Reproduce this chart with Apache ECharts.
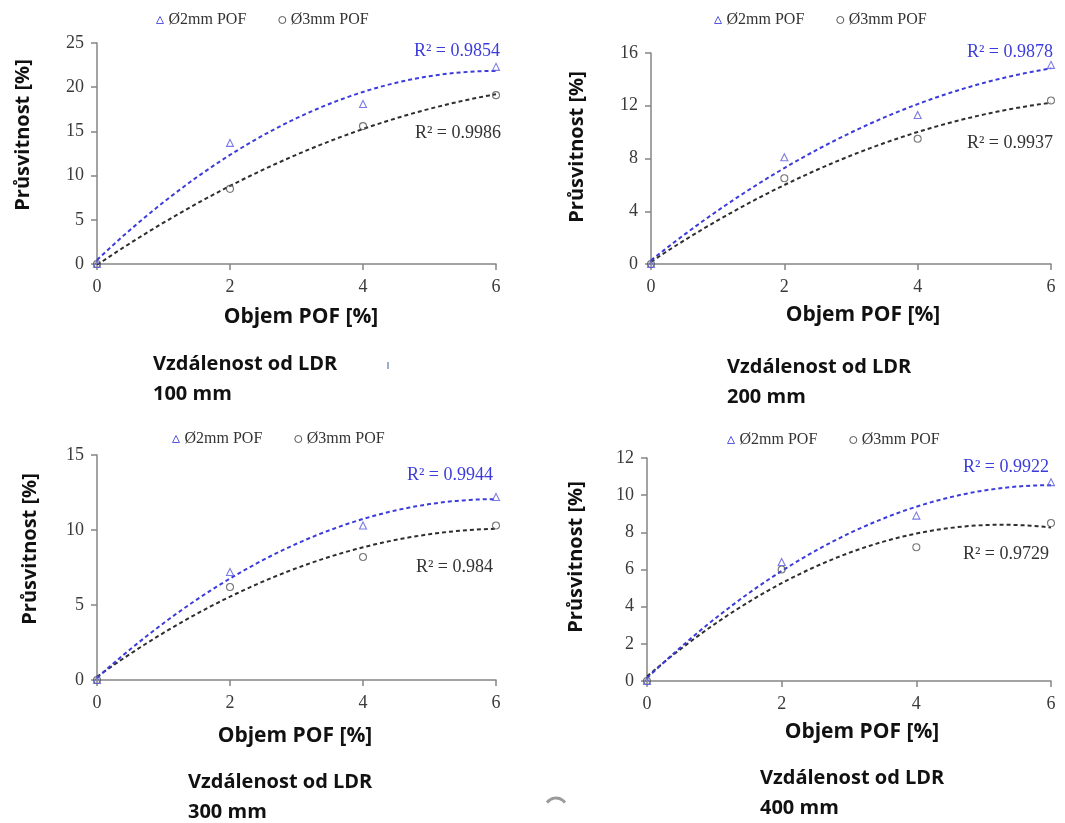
<!DOCTYPE html>
<html>
<head>
<meta charset="utf-8">
<style>
html,body{margin:0;padding:0;background:#fff;}
#chart{width:1065px;height:823px;}
</style>
<script src="https://cdn.jsdelivr.net/npm/echarts@6/dist/echarts.min.js"></script>
</head>
<body>
<div id="chart"></div>
<script>
// ---- data ----
const objem = [0, 2, 4, 6];
const pof2mm_100 = [0, 13.7, 18.1, 22.3];
const pof3mm_100 = [0, 8.5, 15.6, 19.1];
const pof2mm_200 = [0, 8.1, 11.3, 15.1];
const pof3mm_200 = [0, 6.5, 9.5, 12.4];
const pof2mm_300 = [0, 7.2, 10.3, 12.2];
const pof3mm_300 = [0, 6.2, 8.2, 10.3];
const pof2mm_400 = [0, 6.4, 8.9, 10.7];
const pof3mm_400 = [0, 6.0, 7.2, 8.5];
const r2_2mm = ['R² = 0.9854', 'R² = 0.9878', 'R² = 0.9944', 'R² = 0.9922'];
const r2_3mm = ['R² = 0.9986', 'R² = 0.9937', 'R² = 0.984', 'R² = 0.9729'];
const yMax = [25, 16, 15, 12];
const yStep = [5, 4, 5, 2];
const distances = ['100 mm', '200 mm', '300 mm', '400 mm'];
const legendNames = ['Ø2mm POF', 'Ø3mm POF'];
const xTitle = 'Objem POF [%]';
const yTitle = 'Průsvitnost [%]';
const captionLine = 'Vzdálenost od LDR';

// ---- layout / style ----
const grids = [
  {left: 97, top: 43, width: 399, height: 221},
  {left: 651, top: 53, width: 400, height: 211},
  {left: 97, top: 455, width: 399, height: 225},
  {left: 647, top: 458, width: 404, height: 223}
];
const BLUE = '#3c3cdc';
const BLUE_MK = '#5a5ae0';
const DARK = '#2e2e2e';
const DARK_MK = '#555555';
const SERIF = '"Liberation Serif", "Times New Roman", serif';
const SANS = '"Open Sans", "Liberation Sans", sans-serif';

// Excel-like 2nd order polynomial trendline (least squares)
function quadFit(xs, ys) {
  let S = [0,0,0,0,0], T = [0,0,0];
  for (let i = 0; i < xs.length; i++) {
    let p = 1;
    for (let k = 0; k < 5; k++) { S[k] += p; if (k < 3) T[k] += p * ys[i]; p *= xs[i]; }
  }
  const A = [[S[0],S[1],S[2],T[0]],[S[1],S[2],S[3],T[1]],[S[2],S[3],S[4],T[2]]];
  for (let c = 0; c < 3; c++) {
    for (let r = c + 1; r < 3; r++) {
      const f = A[r][c] / A[c][c];
      for (let k = c; k < 4; k++) A[r][k] -= f * A[c][k];
    }
  }
  const b = [0,0,0];
  for (let r = 2; r >= 0; r--) {
    let s = A[r][3];
    for (let k = r + 1; k < 3; k++) s -= A[r][k] * b[k];
    b[r] = s / A[r][r];
  }
  return b;
}
function trend(xs, ys) {
  const b = quadFit(xs, ys);
  const out = [];
  const x0 = xs[0], x1 = xs[xs.length - 1];
  for (let i = 0; i <= 60; i++) {
    const x = x0 + (x1 - x0) * i / 60;
    out.push([x, b[0] + b[1] * x + b[2] * x * x]);
  }
  return out;
}

const sets = [
  [pof2mm_100, pof3mm_100],
  [pof2mm_200, pof3mm_200],
  [pof2mm_300, pof3mm_300],
  [pof2mm_400, pof3mm_400]
];

const xAxis = [], yAxis = [], series = [], legend = [], graphic = [];
const axisLineStyle = {color: '#858585', width: 1.5};
const legendLeft = [156, 714, 172, 727];
const legendTop = [12, 12, 431, 432];
const yTitlePos = [[23, 135], [577, 147], [30, 549], [576, 557]];
const xTitlePos = [[301, 317], [863, 315], [295, 736], [862, 732]];
const captionPos = [[153, 364], [727, 367], [188, 782], [760, 778]];
const r2BluePos = [[500, 51], [1053, 52], [493, 475], [1049, 467]];
const r2DarkPos = [[501, 133], [1053, 143], [493, 567], [1049, 554]];

sets.forEach((s, i) => {
  xAxis.push({
    type: 'value', gridIndex: i, min: 0, max: 6, interval: 2,
    axisLine: {show: true, onZero: false, lineStyle: axisLineStyle},
    axisTick: {show: true, length: 6, lineStyle: axisLineStyle},
    splitLine: {show: false},
    axisLabel: {margin: 14, color: '#3a3a3a', fontFamily: SERIF, fontSize: 18}
  });
  yAxis.push({
    type: 'value', gridIndex: i, min: 0, max: yMax[i], interval: yStep[i],
    axisLine: {show: true, lineStyle: axisLineStyle},
    axisTick: {show: true, length: 6, lineStyle: axisLineStyle},
    splitLine: {show: false},
    axisLabel: {margin: 13, color: '#3a3a3a', fontFamily: SERIF, fontSize: 18}
  });
  const d2 = objem.map((x, k) => [x, s[0][k]]);
  const d3 = objem.map((x, k) => [x, s[1][k]]);
  series.push({
    name: legendNames[1], type: 'line', xAxisIndex: i, yAxisIndex: i,
    data: trend(objem, s[1]), showSymbol: false, silent: true,
    lineStyle: {color: DARK, width: 2, type: [4, 3]}, z: 2
  });
  series.push({
    name: legendNames[0], type: 'line', xAxisIndex: i, yAxisIndex: i,
    data: trend(objem, s[0]), showSymbol: false, silent: true,
    lineStyle: {color: BLUE, width: 2, type: [4, 3]}, z: 2
  });
  series.push({
    name: legendNames[1], type: 'scatter', xAxisIndex: i, yAxisIndex: i,
    data: d3, symbol: 'circle', symbolSize: 7,
    itemStyle: {color: 'rgba(255,255,255,0)', borderColor: DARK_MK, borderWidth: 1.1}, z: 3
  });
  series.push({
    name: legendNames[0], type: 'scatter', xAxisIndex: i, yAxisIndex: i,
    data: d2, symbol: 'triangle', symbolSize: 7,
    itemStyle: {color: 'rgba(255,255,255,0)', borderColor: BLUE_MK, borderWidth: 1.1}, z: 3
  });
  legend.push({
    left: legendLeft[i], top: legendTop[i], padding: 0, itemWidth: 7, itemHeight: 7, itemGap: 32,
    selectedMode: false,
    textStyle: {fontFamily: SERIF, fontSize: 16, color: '#333'},
    data: [
      {name: legendNames[0], icon: 'triangle', itemStyle: {color: 'rgba(255,255,255,0)', borderColor: BLUE_MK, borderWidth: 1}},
      {name: legendNames[1], icon: 'circle', itemStyle: {color: 'rgba(255,255,255,0)', borderColor: DARK_MK, borderWidth: 1}}
    ]
  });
  graphic.push({
    type: 'text', x: yTitlePos[i][0], y: yTitlePos[i][1], rotation: Math.PI / 2,
    style: {text: yTitle, font: 'bold 20px ' + SANS, fill: '#111', align: 'center', verticalAlign: 'middle'}
  });
  graphic.push({
    type: 'text', x: xTitlePos[i][0], y: xTitlePos[i][1],
    style: {text: xTitle, font: 'bold 21px ' + SANS, fill: '#111', align: 'center', verticalAlign: 'middle'}
  });
  graphic.push({
    type: 'text', x: captionPos[i][0], y: captionPos[i][1],
    style: {text: captionLine, font: 'bold 20px ' + SANS, fill: '#111', align: 'left', verticalAlign: 'middle'}
  });
  graphic.push({
    type: 'text', x: captionPos[i][0], y: captionPos[i][1] + 30,
    style: {text: distances[i], font: 'bold 20px ' + SANS, fill: '#111', align: 'left', verticalAlign: 'middle'}
  });
  graphic.push({
    type: 'text', x: r2BluePos[i][0], y: r2BluePos[i][1],
    style: {text: r2_2mm[i], font: '18px ' + SERIF, fill: BLUE, align: 'right', verticalAlign: 'middle'}
  });
  graphic.push({
    type: 'text', x: r2DarkPos[i][0], y: r2DarkPos[i][1],
    style: {text: r2_3mm[i], font: '18px ' + SERIF, fill: '#333', align: 'right', verticalAlign: 'middle'}
  });
});

// small stray marks present in the source image
graphic.push({type: 'rect', shape: {x: 387, y: 362, width: 2, height: 7}, style: {fill: '#9fb0cc'}});
graphic.push({type: 'arc', shape: {cx: 556, cy: 809, r: 11, startAngle: Math.PI * 1.2, endAngle: Math.PI * 1.8},
  style: {stroke: '#9a9a9a', lineWidth: 3, fill: null}});

const chart = echarts.init(document.getElementById('chart'));
chart.setOption({
  animation: false,
  backgroundColor: '#ffffff',
  grid: grids,
  xAxis: xAxis,
  yAxis: yAxis,
  legend: legend,
  series: series,
  graphic: graphic
});
</script>
</body>
</html>
